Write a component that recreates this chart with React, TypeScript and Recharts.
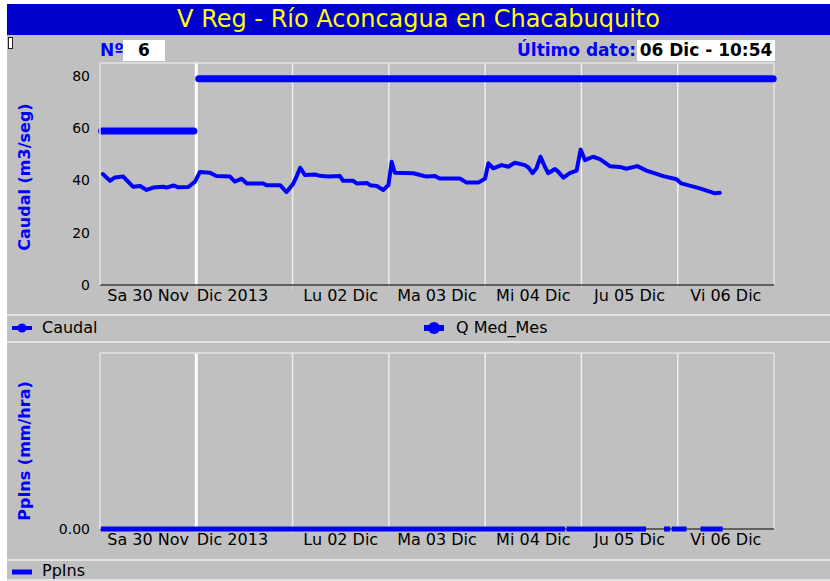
import { LineChart, Line, XAxis, YAxis, ReferenceLine } from "recharts";

const FONT = "'DejaVu Sans', Verdana, sans-serif";
const BLUE = "#0000ff";
const PANEL = "#c0c0c0";
const EDGE = "#e4e4de";
const AXIS = "#404040";

// hours since Sa 30 Nov 00:00
const dayBounds = [24, 48, 72, 96, 120, 144];
const tickHours = [12, 33, 60, 84, 108, 132, 156];
const tickLabels = ["Sa 30 Nov", "Dic 2013", "Lu 02 Dic", "Ma 03 Dic", "Mi 04 Dic", "Ju 05 Dic", "Vi 06 Dic"];

const caudalHours = [
  0.7, 2.5, 3.7, 5.8, 7, 8.3, 10, 11.6, 13.3, 15.8, 16.6, 18.3, 19.5, 22, 23.7, 24.9, 27.4, 29, 32.4, 33.6,
  35.3, 36.6, 40.7, 41.5, 44.9, 46.5, 48.2, 49, 49.9, 51.1, 53.6, 54.8, 56.9, 59.8, 60.6, 63.1, 64, 66.5, 67.3,
  69, 70.6, 71.9, 72.7, 73.5, 78.1, 79.8, 81.4, 83.5, 84.7, 89.7, 91.4, 94.3, 96, 96.8, 98, 100.1, 101.8, 103.4,
  105.9, 106.8, 107.8, 108.8, 109.8, 110.7, 111.7, 113.4, 114.2, 115.5, 117.1, 118.8, 119.8, 120.9, 122.9, 124.6,
  127.1, 129.6, 131.2, 133.9, 136.2, 140.4, 143.7, 144.9, 149.5, 153.3, 154.5,
];
const caudalValues = [
  42.5, 39.9, 41.2, 41.5, 39.6, 37.6, 37.9, 36.4, 37.3, 37.6, 37.3, 38.1, 37.4, 37.5, 39.6, 43.3, 43.0, 41.7, 41.5, 39.6,
  40.7, 38.9, 38.9, 38.2, 38.2, 35.6, 38.9, 41.5, 44.9, 42.1, 42.3, 41.8, 41.5, 41.7, 39.9, 39.9, 38.9, 39.1, 38.2,
  37.9, 36.4, 38.3, 47.2, 43.0, 42.8, 42.1, 41.5, 41.7, 40.8, 40.8, 39.2, 39.2, 40.8, 46.6, 44.7, 45.9, 45.3, 46.8,
  45.9, 45.0, 42.8, 44.7, 49.1, 45.9, 42.8, 44.4, 43.4, 41.1, 42.8, 43.8, 51.9, 47.8, 49.1, 48.2,
  45.5, 45.2, 44.5, 45.5, 43.8, 41.7, 40.5, 38.9, 37.0, 35.1, 35.3,
];

const qMedHours = [0.4, 23.4, 24, 24.6, 167.8];
const qMedValues = [59, 59, null, 79, 79];

const ppHours = [0.2, 115.9, 116.1, 116.3, 136.1, 138, 140.6, 142.1, 142.3, 142.5, 146.2, 148, 149.7, 155.2];
const ppValues = [0, 0, null, 0, 0, null, 0, 0, null, 0, 0, null, 0, 0];

const zip = (hs: number[], vs: (number | null)[]) => hs.map((h, i) => ({ h, v: vs[i] }));
const caudalData = zip(caudalHours, caudalValues);
const qMedData = zip(qMedHours, qMedValues);
const ppData = zip(ppHours, ppValues);

function DayTick({ x, y, payload }: any) {
  const i = tickHours.indexOf(payload.value);
  return (
    <text x={x} y={y} dy={16} textAnchor="middle" fontSize={16} fontFamily={FONT} fill="#000">
      {tickLabels[i]}
    </text>
  );
}

// shared axes + grid for both panels; markLen = tick mark length in data units
function frame(yMax: number, yTicks: number[], markLen: number, fmt?: (v: number) => string) {
  return [
    <XAxis
      key="x"
      type="number"
      dataKey="h"
      domain={[0, 168]}
      ticks={tickHours}
      interval={0}
      tick={DayTick}
      tickLine={false}
      tickSize={0}
      tickMargin={0}
      axisLine={false}
      height={30}
    />,
    <YAxis
      key="y"
      type="number"
      domain={[0, yMax]}
      ticks={yTicks}
      interval={0}
      width={60}
      tickLine={false}
      tickSize={0}
      tickMargin={10}
      tickFormatter={fmt}
      axisLine={{ stroke: EDGE, strokeWidth: 1.5 }}
      tick={{ fill: "#000", fontSize: 14, fontFamily: FONT }}
    />,
    ...dayBounds.map((h) => (
      <ReferenceLine
        key={"g" + h}
        x={h}
        stroke={h === 24 ? "#ffffff" : "#eeeeee"}
        strokeWidth={h === 24 ? 3 : 1.5}
      />
    )),
    ...dayBounds.map((h) => (
      <ReferenceLine
        key={"t" + h}
        segment={[{ x: h, y: 0 }, { x: h, y: -markLen }]}
        ifOverflow="visible"
        stroke="#d6d6d6"
        strokeWidth={1}
      />
    )),
    <ReferenceLine key="right" x={168} stroke={EDGE} strokeWidth={1.5} />,
    <ReferenceLine key="top" y={yMax} stroke={EDGE} strokeWidth={1.5} />,
    <ReferenceLine key="base" y={0} stroke={AXIS} strokeWidth={1.5} />,
  ];
}

function YTitle({ text, cx, cy }: { text: string; cx: number; cy: number }) {
  return (
    <div
      style={{
        position: "absolute",
        left: cx - 100,
        top: cy - 10,
        width: 200,
        height: 20,
        lineHeight: "20px",
        textAlign: "center",
        transform: "rotate(-90deg)",
        color: BLUE,
        fontWeight: "bold",
        fontSize: 16,
        fontFamily: FONT,
        whiteSpace: "nowrap",
      }}
    >
      {text}
    </div>
  );
}

function LegendIcon({ lw, r, dot }: { lw: number; r: number; dot: boolean }) {
  return (
    <svg width={24} height={16} style={{ display: "block" }}>
      <line x1={2} y1={8} x2={22} y2={8} stroke={BLUE} strokeWidth={lw} />
      {dot && <circle cx={12} cy={8} r={r} fill={BLUE} />}
    </svg>
  );
}

function Sep({ y }: { y: number }) {
  return <div style={{ position: "absolute", left: 7, top: y, width: 823, height: 2, background: EDGE }} />;
}

const txt = { position: "absolute" as const, fontFamily: FONT, whiteSpace: "nowrap" as const };

export default function App() {
  return (
    <div style={{ position: "absolute", left: 0, top: 0, width: 830, height: 581, background: "#fff", overflow: "hidden" }}>
      <div style={{ position: "absolute", left: 7, top: 35, width: 823, height: 546, background: PANEL }} />
      <div
        style={{
          ...txt,
          left: 7,
          top: 4,
          width: 823,
          height: 31,
          background: "#0000cc",
          color: "#ffff00",
          fontSize: 24,
          lineHeight: "31px",
          textAlign: "center",
        }}
      >
        V Reg - Río Aconcagua en Chacabuquito
      </div>
      <div style={{ position: "absolute", left: 8, top: 37, width: 3, height: 10, background: "#fff", border: "1px solid #222" }} />

      <div style={{ ...txt, left: 100, top: 40, lineHeight: "21px", fontSize: 17, fontWeight: "bold", color: BLUE }}>Nº</div>
      <div style={{ ...txt, left: 123, top: 40, width: 42, height: 21, background: "#fff", lineHeight: "21px", textAlign: "center", fontSize: 17, fontWeight: "bold" }}>6</div>
      <div style={{ ...txt, left: 517, top: 40, lineHeight: "21px", fontSize: 17, fontWeight: "bold", color: BLUE }}>Último dato:</div>
      <div style={{ ...txt, left: 637, top: 40, width: 138, height: 21, background: "#fff", lineHeight: "21px", textAlign: "center", fontSize: 17, fontWeight: "bold" }}>06 Dic - 10:54</div>

      <div style={{ position: "absolute", left: 0, top: 40 }}>
        <LineChart width={800} height={280} margin={{ top: 23, right: 26, left: 40, bottom: 5 }}>
          {frame(85, [0, 20, 40, 60, 80], 1.8)}
          <Line data={qMedData} dataKey="v" stroke={BLUE} strokeWidth={7} strokeLinecap="round" dot={false} isAnimationActive={false} />
          <Line data={caudalData} dataKey="v" stroke={BLUE} strokeWidth={4} strokeLinecap="round" strokeLinejoin="round" dot={false} isAnimationActive={false} />
        </LineChart>
      </div>
      <YTitle text="Caudal (m3/seg)" cx={25} cy={177} />

      <Sep y={314} />
      <div style={{ position: "absolute", left: 10, top: 320 }}><LegendIcon lw={4} r={4.5} dot /></div>
      <div style={{ ...txt, left: 42, top: 318, lineHeight: "20px", fontSize: 16 }}>Caudal</div>
      <div style={{ position: "absolute", left: 422, top: 320 }}><LegendIcon lw={6} r={6} dot /></div>
      <div style={{ ...txt, left: 456, top: 318, lineHeight: "20px", fontSize: 16 }}>Q Med_Mes</div>
      <Sep y={341} />

      <div style={{ position: "absolute", left: 0, top: 330 }}>
        <LineChart width={800} height={240} margin={{ top: 23, right: 26, left: 40, bottom: 11 }}>
          {frame(1, [0], 0.025, (v: number) => v.toFixed(2))}
          <Line data={ppData} dataKey="v" stroke={BLUE} strokeWidth={5} dot={false} isAnimationActive={false} />
        </LineChart>
      </div>
      <YTitle text="PpIns (mm/hra)" cx={25} cy={451} />

      <Sep y={559} />
      <div style={{ position: "absolute", left: 10, top: 564 }}><LegendIcon lw={5} r={0} dot={false} /></div>
      <div style={{ ...txt, left: 42, top: 561, lineHeight: "20px", fontSize: 16 }}>PpIns</div>
      <Sep y={579} />
    </div>
  );
}
